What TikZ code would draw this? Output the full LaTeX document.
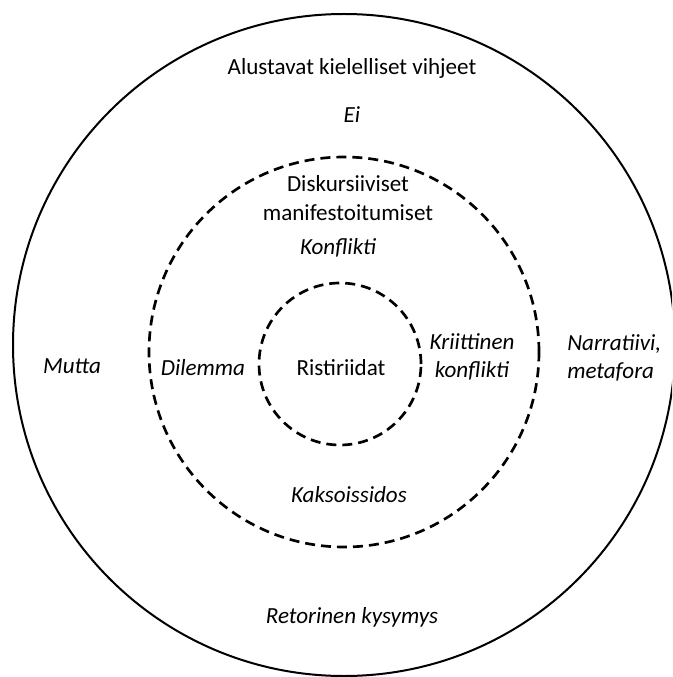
\documentclass[tikz,border=0pt]{standalone}
\usepackage{fontspec}
\setmainfont{Carlito}

\begin{document}
\begin{tikzpicture}[
    x=0.75pt,
    y=-0.75pt,
    line join=round,
    ring/.style={line width=1.5pt},
    dashring/.style={line width=2pt,dash pattern=on 7.5pt off 4.5pt},
    lab/.style={font=\fontsize{17.3}{21.5}\selectfont,align=center,inner sep=0pt},
    emlab/.style={lab,font=\fontsize{17.3}{21.5}\selectfont\itshape}
]
% 三个圆
\useasboundingbox (0,0) rectangle (672,677);
\clip (0,0) rectangle (672,677);
\coordinate (O1) at (344,345);
\coordinate (O2) at (344,352);
\coordinate (O3) at (340,364);

\draw[ring] (O1) circle[radius=248.25pt];
\draw[dashring] (O2) circle[radius=146.25pt];
\draw[dashring] (O3) circle[radius=60.75pt];

\node[lab] (vihjeet) at (352,68) {Alustavat kielelliset vihjeet};
\node[emlab] (ei) at (352,115) {Ei};
\node[lab] (manif) at (348,198) {Diskursiiviset\\manifestoitumiset};
\node[emlab] (konf) at (338,248) {Konflikti};
\node[emlab] (mutta) at (72,366) {Mutta};
\node[emlab] (dilemma) at (203,368) {Dilemma};
\node[lab] (risti) at (341,368) {Ristiriidat};
\node[emlab] (kriit) at (472,357) {Kriittinen\\konflikti};
\node[emlab,align=left,anchor=west] (narr) at (567,358) {Narratiivi,\\metafora};
\node[emlab] (kaksois) at (349,495) {Kaksoissidos};
\node[emlab] (retor) at (352,617) {Retorinen kysymys};

\end{tikzpicture}
\end{document}
